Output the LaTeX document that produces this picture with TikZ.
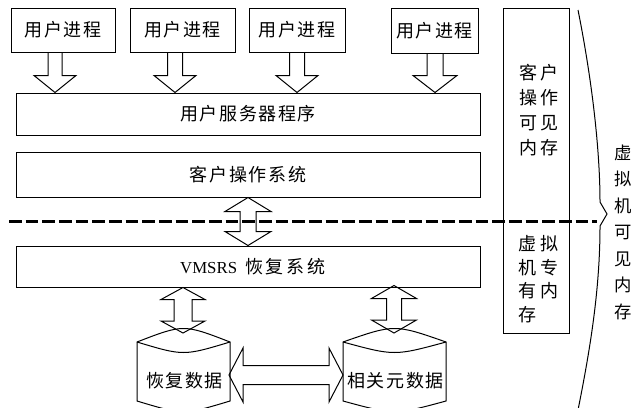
\documentclass[tikz,border=0pt]{standalone}
\usepackage{fontspec}
\setmainfont{Liberation Serif}
\newfontfamily\cjk[LetterSpace=9]{Noto Sans CJK SC}
\newfontfamily\cjkm[LetterSpace=15]{Noto Sans CJK SC}
\newfontfamily\cjkw[LetterSpace=22]{Noto Sans CJK SC}
\usetikzlibrary{calc}

\newcommand\lbl{\fontsize{13.5pt}{16pt}\selectfont\cjk}

% hollow block arrow pointing down: #1 shaft top, #2 tip,
% #3 head length, #4 head half width, #5 shaft half width
\newcommand\sdown[5]{%
  \draw[blk] ($(#1)+(-#5,0)$) -- ($(#2)+(-#5,-#3)$) -- ++(-#4+#5,0) -- (#2)
    -- ++(#4,-#3) -- ++(-#4+#5,0) -- ($(#1)+(#5,0)$);}

% hollow vertical double arrow: #1 top tip, #2 bottom tip
\newcommand\vdbl[5]{%
  \draw[blk] (#1) -- ++(#4,#3) -- ++(-#4+#5,0) -- ($(#2)+(#5,-#3)$)
    -- ++(#4-#5,0) -- (#2) -- ++(-#4,-#3) -- ++(#4-#5,0)
    -- ($(#1)+(-#5,#3)$) -- ++(-#4+#5,0) -- cycle;}

% hollow horizontal double arrow: #1 left tip, #2 right tip
\newcommand\hdbl[5]{%
  \draw[blk] (#1) -- ++(#3,-#4) -- ++(0,#4-#5) -- ($(#2)+(-#3,-#5)$)
    -- ++(0,-#4+#5) -- (#2) -- ++(-#3,#4) -- ++(0,-#4+#5)
    -- ($(#1)+(#3,#5)$) -- ++(0,#4-#5) -- cycle;}

\begin{document}
\begin{tikzpicture}[x=0.75pt,y=-0.75pt,line width=0.75pt,
  box/.style={draw,inner sep=0pt,font=\lbl},
  blk/.style={draw,line join=miter},
  sep/.style={line width=2.25pt,dash pattern=on 9.4pt off 3.1pt},
  side/.style={inner sep=0pt,align=left,font=\fontsize{13.5pt}{18.75pt}\selectfont\cjkw},
  side2/.style={inner sep=0pt,align=left,font=\fontsize{13.5pt}{17.6pt}\selectfont\cjkw},
  vert/.style={inner sep=0pt,align=center,font=\fontsize{13pt}{19.9pt}\selectfont\cjk}]
\useasboundingbox (0,0) rectangle (634,407);

% user processes
\node[box,minimum width=104*0.75pt,minimum height=44*0.75pt] (p1) at (63,30) {用户进程};
\node[box,minimum width=105*0.75pt,minimum height=44*0.75pt] (p2) at (182.5,30) {用户进程};
\node[box,minimum width=96*0.75pt,minimum height=44*0.75pt] (p3) at (297,30) {用户进程};
\node[box,minimum width=87*0.75pt,minimum height=45*0.75pt] (p4) at (434.5,30.5) {用户进程};

% layered system
\node[box,minimum width=464*0.75pt,minimum height=42*0.75pt] (srv) at (248,114) {用户服务器程序};
\node[box,minimum width=464*0.75pt,minimum height=45*0.75pt] (os) at (248,174.5) {客户操作系统};
\node[box,minimum width=464*0.75pt,minimum height=41*0.75pt] (vm) at (248,266.5)
  {\hspace{7pt}\rmfamily\fontsize{12.6pt}{15pt}\selectfont VMSRS\hspace{6pt}{\cjkm\fontsize{13.5pt}{16pt}\selectfont 恢复系统}};

% memory column
\node[draw,inner sep=0pt,minimum width=66*0.75pt,minimum height=325*0.75pt] (mem) at (536,170.5) {};
\node[side] (memg) at (539,110) {客户\\操作\\可见\\内存};
\node[side2] (memv) at (538.5,279) {虚拟\\机专\\有内\\存};

% storage cylinders
\draw (137,342) .. controls (183.5,324) .. (230,342) -- (230,401)
  .. controls (183.5,415) .. (137,401) -- cycle;
\draw (137,342) .. controls (183.5,356) .. (230,342);
\draw (343,342) .. controls (394.5,324) .. (446,342) -- (446,401)
  .. controls (394.5,415) .. (343,401) -- cycle;
\draw (343,342) .. controls (394.5,356) .. (446,342);
\node[font=\lbl,inner sep=0pt] (cyl1) at (184.5,381) {恢复数据};
\node[font=\lbl,inner sep=0pt] (cyl2) at (395.5,381) {相关元数据};
\coordinate (c1top) at (183,333);
\coordinate (c2top) at (394,333);
\coordinate (c1r) at (229,375);
\coordinate (c2l) at (343,375);

% arrows from user processes to the server program
\coordinate (a1) at ($(p1.south)+(-8,0)$);
\coordinate (a2) at ($(p2.south)+(-7.5,0)$);
\coordinate (a3) at (p3.south);
\coordinate (a4) at ($(p4.south)+(0.5,-0.5)$);
\coordinate (b1) at (a1 |- srv.north);
\coordinate (b2) at (a2 |- srv.north);
\coordinate (b3) at (a3 |- srv.north);
\coordinate (b4) at (a4 |- srv.north);
\sdown{a1}{b1}{17}{21}{7}
\sdown{a2}{b2}{17}{21}{7.5}
\sdown{a3}{b3}{17}{21}{7.5}
\sdown{a4}{b4}{17}{22}{8}

% exchanges between layers and storage
\vdbl{os.south}{vm.north}{14}{23}{8}
\coordinate (v1) at (c1top |- vm.south);
\coordinate (v2) at ($(c2top |- vm.south)+(0,-2)$);
\vdbl{v1}{c1top}{12}{22}{9}
\vdbl{v2}{c2top}{13}{22.5}{7.5}
\hdbl{c1r}{c2l}{14}{27}{9.5}

% boundary between guest and virtual machine
\coordinate (dl) at (9,221);
\coordinate (dr) at (597,221);
\draw[sep] (dl) -- (dr);

% brace for the memory visible to the virtual machine
\coordinate (bt) at (578,10);
\coordinate (bk) at (607,214);
\coordinate (bb) at (578,410);
\draw (bt) .. controls (592,80) and (600,150) .. (600,202) -- (bk)
  -- (600,226) .. controls (600,290) and (590,350) .. (bb);
\node[vert] (vmem) at (623,232) {虚\\拟\\机\\可\\见\\内\\存};
\end{tikzpicture}
\end{document}
